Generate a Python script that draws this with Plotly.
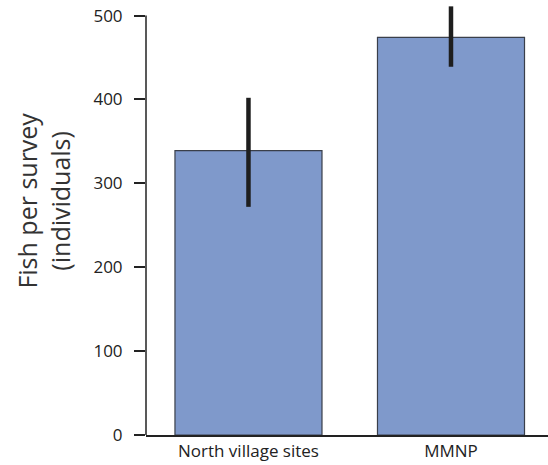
import plotly.graph_objects as go

categories = ["North village sites", "MMNP"]
values = [339, 474]
err_plus = [63, 37]
err_minus = [67, 35]
y_ticks = [0, 100, 200, 300, 400, 500]

FONT = "Open Sans"
fig = go.Figure()
fig.add_trace(go.Bar(
    x=categories, y=values, width=0.726,
    marker=dict(color="#7f99cb", line=dict(color="#3a3f4a", width=1.2)),
    error_y=dict(type="data", symmetric=False, array=err_plus, arrayminus=err_minus,
                 color="#1e1e1e", thickness=4.5, width=0),
))
fig.add_shape(type="line", xref="paper", yref="y", x0=0, x1=0, y0=0, y1=500,
              line=dict(color="#222", width=1.5))
fig.add_annotation(text="Fish per survey<br>(individuals)", xref="paper", yref="y",
                   x=-0.255, y=280, xanchor="center", yanchor="middle",
                   textangle=-90, showarrow=False,
                   font=dict(family=FONT, size=25, color="#333"))
fig.update_layout(
    width=548, height=465,
    margin=dict(l=146, r=0, t=3, b=30),
    plot_bgcolor="white", paper_bgcolor="white",
    showlegend=False,
    xaxis=dict(range=[-0.506, 1.479], showline=True, linecolor="#222", linewidth=1.5,
               ticks="", tickfont=dict(family=FONT, size=17, color="#222")),
    yaxis=dict(range=[0, 515], tickvals=y_ticks, ticks="outside", ticklen=11,
               tickcolor="#222", tickwidth=1.5, showgrid=False, zeroline=False,
               showline=False, ticklabelstandoff=8,
               tickfont=dict(family=FONT, size=17, color="#222")),
)
fig.write_html("out.html", config={"displayModeBar": False},
               post_script="document.body.style.margin='0';")
